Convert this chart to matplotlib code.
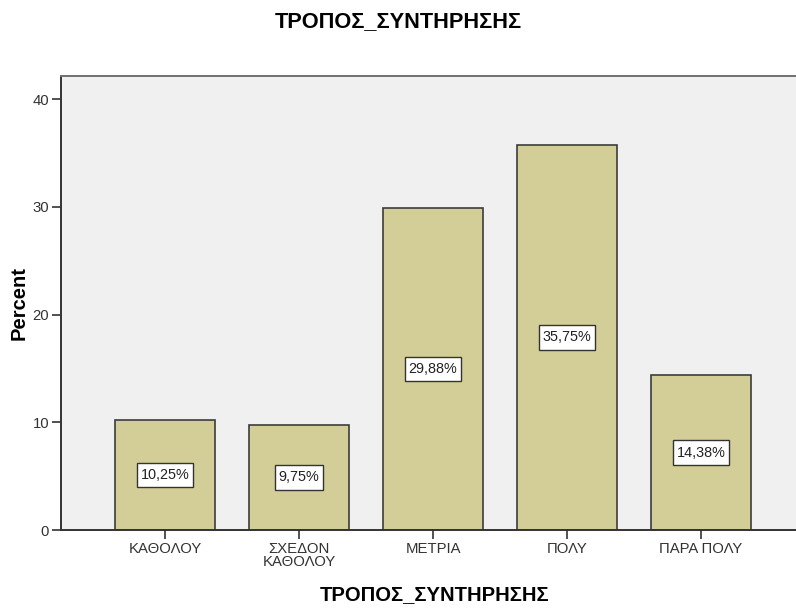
import matplotlib
matplotlib.use("Agg")
import matplotlib.pyplot as plt

categories = ["ΚΑΘΟΛΟΥ", "ΣΧΕΔΟΝ\nΚΑΘΟΛΟΥ", "ΜΕΤΡΙΑ", "ΠΟΛΥ", "ΠΑΡΑ ΠΟΛΥ"]
percents = [10.25, 9.75, 29.88, 35.75, 14.38]
labels = ["10,25%", "9,75%", "29,88%", "35,75%", "14,38%"]
yticks = [0, 10, 20, 30, 40]
title = "ΤΡΟΠΟΣ_ΣΥΝΤΗΡΗΣΗΣ"

plt.rcParams['font.family'] = ['Liberation Sans', 'DejaVu Sans']

fig = plt.figure(figsize=(7.96, 6.08), dpi=100)
W, H = 796, 608
left, right, top, bottom = 61, 805, 76, 530
ax = fig.add_axes([left / W, (H - bottom) / H, (right - left) / W, (bottom - top) / H])
ax.set_facecolor("#F0F0F0")

x = list(range(len(categories)))
ax.bar(x, percents, width=0.746, color="#D3CE97", edgecolor="#3C3C3C", linewidth=1.2, zorder=2)
for xi, v, lab in zip(x, percents, labels):
    ax.text(xi, v / 2, lab, ha="center", va="center", fontsize=10.4, color="#222222", zorder=3,
            bbox=dict(boxstyle="square,pad=0.22", mutation_aspect=1.6, facecolor="white",
                      edgecolor="#333333", linewidth=1.0))

ax.set_xlim(-0.776, 4.776)
ax.set_ylim(0, 42.15)
ax.set_xticks(x)
ax.set_xticklabels(categories, fontsize=10.7, color="#333333", linespacing=0.95)
ax.set_yticks(yticks)
ax.set_yticklabels([str(t) for t in yticks], fontsize=10.7, color="#333333")
ax.tick_params(axis="both", direction="out", length=6.5, width=1.2, color="#333333", pad=2)

for s in ["left", "bottom"]:
    ax.spines[s].set_color("#333333")
    ax.spines[s].set_linewidth(1.4)
ax.spines["top"].set_color("#707070")
ax.spines["top"].set_linewidth(1.4)
ax.spines["right"].set_visible(False)

fig.text(398 / W, 1 - 22 / H, title, ha="center", va="center", fontsize=15.7, fontweight="bold", color="black")
fig.text(435 / W, 1 - 595 / H, title, ha="center", va="center", fontsize=14.6, fontweight="bold", color="black")
fig.text(19 / W, 1 - 303 / H, "Percent", ha="center", va="center", rotation=90, fontsize=14.5,
         fontweight="bold", color="black")

fig.savefig("out.png", dpi=100)
